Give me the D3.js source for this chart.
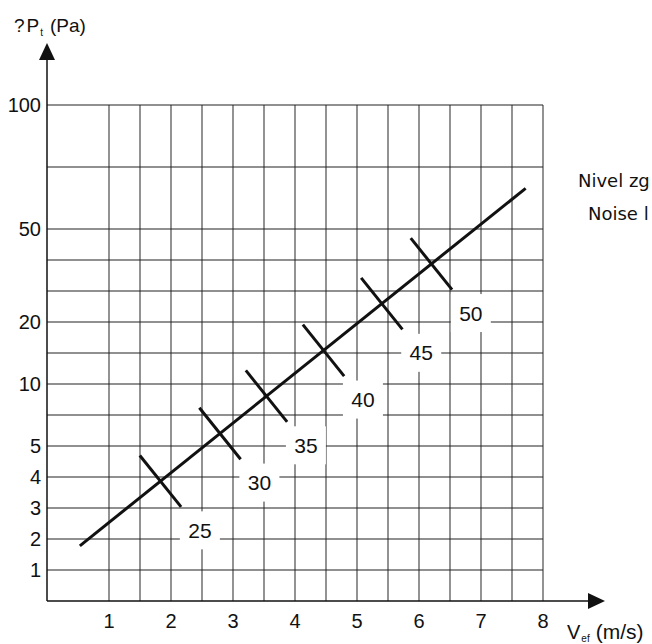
<!DOCTYPE html>
<html>
<head>
<meta charset="utf-8">
<script src="https://cdn.jsdelivr.net/npm/d3@7"></script>
<style>
  body { margin: 0; background: #fff; }
  svg { display: block; font-family: "Liberation Sans", Arial, sans-serif; }
</style>
</head>
<body>
<div id="chart"></div>
<script>
// axis ticks and grid
const xTicks = [1, 2, 3, 4, 5, 6, 7, 8];
const xGrid = [1, 1.5, 2, 2.5, 3, 3.5, 4, 4.5, 5, 5.5, 6, 6.5, 7, 7.5, 8];
const yTicks = [1, 2, 3, 4, 5, 10, 20, 50, 100];
const yGrid = [1, 2, 3, 4, 5, 7.5, 10, 15, 20, 30, 40, 50, 75, 100];

// the working line (V_ef, dPt) at both ends
const lineV = [0.53, 7.72];
const lineP = [1.78, 66.4];

// noise level marks along the line
const noiseLevels = [25, 30, 35, 40, 45, 50];
const noiseV = [1.83, 2.79, 3.54, 4.46, 5.40, 6.20];

const width = 652, height = 644;
const x0 = 47, x1 = 543;
const yBottom = 601, row = 31;

const svg = d3.select("#chart")
  .append("svg")
  .attr("width", width)
  .attr("height", height);

const x = d3.scaleLinear().domain([0, 8]).range([x0, x1]);
// non uniform vertical scale of the nomogram
const y = d3.scaleLinear()
  .domain([0, 5, 10, 20, 50, 100])
  .range([0, 5, 7, 9, 12, 16].map(r => yBottom - r * row));

const yTop = y(100);

// grid
svg.append("g").selectAll("line")
  .data(xGrid)
  .enter().append("line")
  .attr("x1", d => x(d)).attr("x2", d => x(d))
  .attr("y1", yTop).attr("y2", yBottom)
  .attr("stroke", "#3a3a3a").attr("stroke-width", 1.1);

svg.append("g").selectAll("line")
  .data(yGrid)
  .enter().append("line")
  .attr("x1", x0).attr("x2", x1)
  .attr("y1", d => y(d)).attr("y2", d => y(d))
  .attr("stroke", "#222").attr("stroke-width", 1.1);

// axes with arrows
svg.append("line")
  .attr("x1", x0).attr("x2", x0)
  .attr("y1", yBottom).attr("y2", 58)
  .attr("stroke", "#111").attr("stroke-width", 1.5);
svg.append("path")
  .attr("d", `M${x0},43 L${x0 - 8},60 L${x0 + 8},60 Z`)
  .attr("fill", "#111");

svg.append("line")
  .attr("x1", x0).attr("x2", 590)
  .attr("y1", yBottom).attr("y2", yBottom)
  .attr("stroke", "#111").attr("stroke-width", 1.5);
svg.append("path")
  .attr("d", `M605,${yBottom} L588,${yBottom - 8} L588,${yBottom + 8} Z`)
  .attr("fill", "#111");

// tick labels
svg.append("g").selectAll("text")
  .data(yTicks)
  .enter().append("text")
  .attr("x", 41)
  .attr("y", d => y(d))
  .attr("dy", "0.36em")
  .attr("text-anchor", "end")
  .attr("font-size", 20)
  .attr("fill", "#111")
  .text(d => d);

svg.append("g").selectAll("text")
  .data(xTicks)
  .enter().append("text")
  .attr("x", d => x(d))
  .attr("y", 628)
  .attr("text-anchor", "middle")
  .attr("font-size", 20)
  .attr("fill", "#111")
  .text(d => d);

// axis titles
const yt = svg.append("text")
  .attr("x", 14).attr("y", 32)
  .attr("font-size", 19).attr("fill", "#111");
yt.append("tspan").text("?");
yt.append("tspan").attr("dx", 2).text("P");
yt.append("tspan").attr("font-size", 10).attr("dy", 4).attr("dx", 1).text("t");
yt.append("tspan").attr("dy", -4).attr("dx", 7).text("(Pa)");

const xt = svg.append("text")
  .attr("x", 567).attr("y", 639)
  .attr("font-size", 20).attr("fill", "#111");
xt.append("tspan").text("V");
xt.append("tspan").attr("font-size", 10).attr("dy", 3).attr("dx", 1).text("ef");
xt.append("tspan").attr("dy", -3).attr("dx", 6).attr("font-size", 21).text("(m/s)");

// legend text on the right, cut off at the edge
svg.append("text")
  .attr("x", 578).attr("y", 187)
  .attr("font-family", "'DejaVu Sans', sans-serif")
  .attr("font-size", 18).attr("fill", "#111")
  .text("Nivel zg");
svg.append("text")
  .attr("x", 588).attr("y", 220)
  .attr("font-family", "'DejaVu Sans', sans-serif")
  .attr("font-size", 18).attr("fill", "#111")
  .text("Noise l");

// the line
const pts = lineV.map((v, i) => [x(v), y(lineP[i])]);
svg.append("path")
  .datum(pts)
  .attr("d", d3.line())
  .attr("fill", "none")
  .attr("stroke", "#111")
  .attr("stroke-width", 3);

// perpendicular direction to the line
const dx = pts[1][0] - pts[0][0], dy = pts[1][1] - pts[0][1];
const len = Math.hypot(dx, dy);
const px = -dy / len, py = dx / len; // points down-right

const marks = noiseLevels.map((lvl, i) => {
  const cx = x(noiseV[i]);
  const cy = pts[0][1] + (cx - pts[0][0]) * dy / dx;
  return { lvl, cx, cy };
});

const tickHalf = 33, labelOff = 63;

svg.append("g").selectAll("line")
  .data(marks)
  .enter().append("line")
  .attr("x1", d => d.cx - px * tickHalf)
  .attr("y1", d => d.cy - py * tickHalf)
  .attr("x2", d => d.cx + px * tickHalf)
  .attr("y2", d => d.cy + py * tickHalf)
  .attr("stroke", "#111")
  .attr("stroke-width", 3);

const lab = svg.append("g").selectAll("g")
  .data(marks)
  .enter().append("g")
  .attr("transform", d => `translate(${d.cx + px * labelOff},${d.cy + py * labelOff})`);

lab.append("rect")
  .attr("x", -20).attr("y", -19)
  .attr("width", 40).attr("height", 38)
  .attr("fill", "#fff");

lab.append("text")
  .attr("text-anchor", "middle")
  .attr("dy", "0.36em")
  .attr("font-size", 21)
  .attr("fill", "#111")
  .text(d => d.lvl);
</script>
</body>
</html>
